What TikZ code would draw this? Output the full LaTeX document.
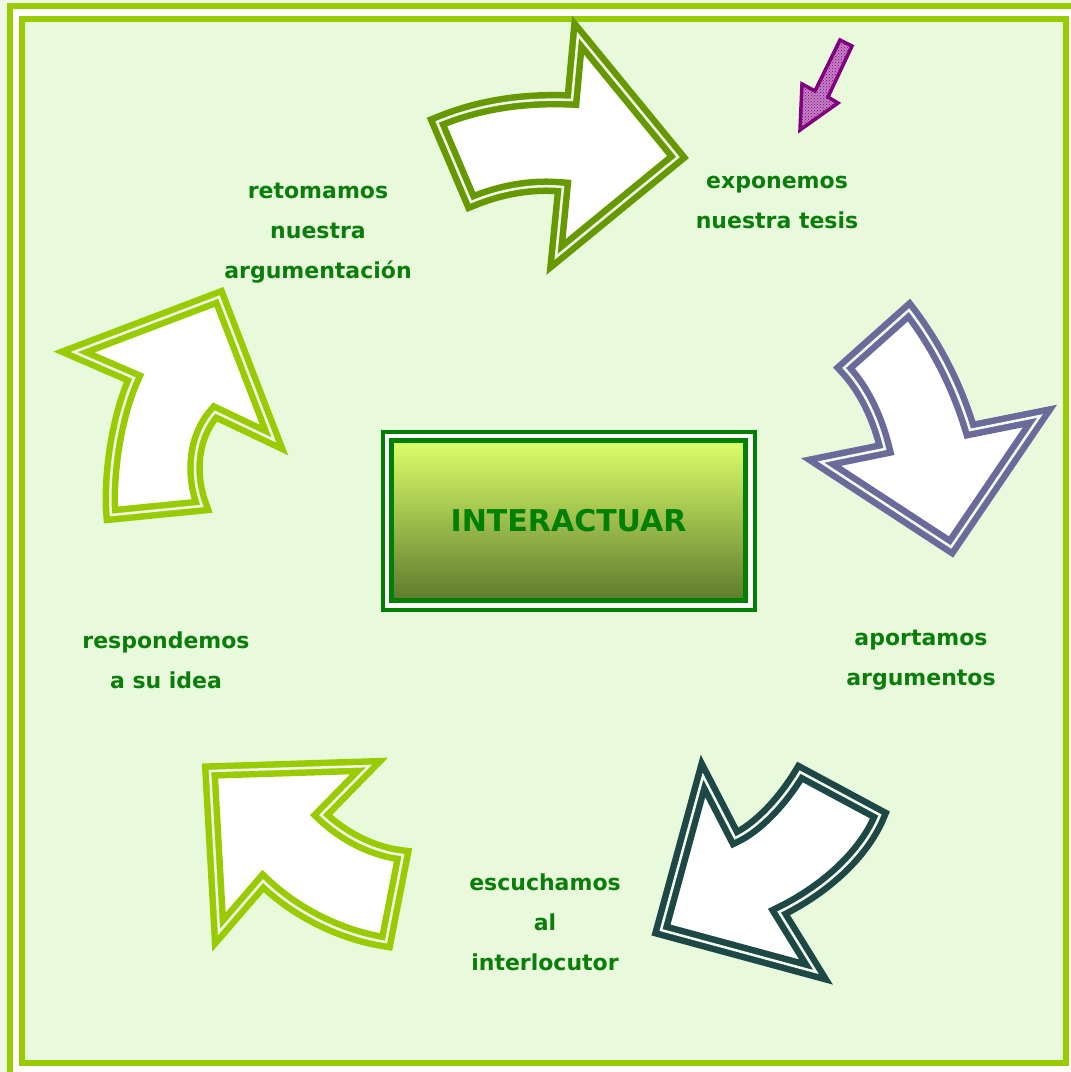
\documentclass[tikz,border=0pt]{standalone}
\usepackage{fontspec}
\setmainfont{DejaVu Sans}
\usetikzlibrary{patterns}
\definecolor{pagec}{RGB}{238,248,230}
\definecolor{bgc}{RGB}{232,249,220}
\definecolor{frameg}{RGB}{153,204,0}
\definecolor{gapc}{RGB}{242,251,236}
\definecolor{aone}{RGB}{102,153,0}
\definecolor{atwo}{RGB}{107,107,155}
\definecolor{athree}{RGB}{30,72,70}
\definecolor{afour}{RGB}{153,204,0}
\definecolor{txtg}{RGB}{10,125,10}
\definecolor{boxg}{RGB}{0,128,0}
\definecolor{shtop}{RGB}{220,255,106}
\definecolor{shmid}{RGB}{170,205,85}
\definecolor{shbot}{RGB}{94,122,46}
\definecolor{magd}{RGB}{128,0,128}
\definecolor{magl}{RGB}{196,128,196}
\tikzset{
  blk/.style={fill=white, line width=6.5pt, double=gapc, double distance=2.5pt, line join=miter, miter limit=10},
  lbl/.style={text=txtg, font=\bfseries\fontsize{22}{40}\selectfont, align=center, inner sep=0pt},
}
\begin{document}
\begin{tikzpicture}[x=1pt,y=-1pt]
\useasboundingbox (0,0) rectangle (1071,1072);
\fill[pagec] (0,0) rectangle (1071,1072);
% frames
\draw[frameg, line width=6pt, fill=white] (9.5,6.2) rectangle (1095,1095);
\draw[frameg, line width=6pt, fill=bgc] (22,19) rectangle (1066,1063);
% center box
\draw[boxg, line width=4pt, fill=white] (383,432) rectangle (755,610);
\node (center) at (568.6,520.7) [draw=boxg, line width=4.5pt, minimum width=353.8pt, minimum height=160pt, inner sep=0pt,
  top color=shtop, middle color=shmid, bottom color=shbot, text=boxg, font=\bfseries\fontsize{30}{36}\selectfont] {INTERACTUAR};
% arrow 1 (top, pointing right)
\draw[blk, draw=aone] (437,122) .. controls (480,104) and (525,98) .. (572,100) -- (578,35) -- (678,157) -- (556,257) -- (563,187)
  .. controls (530,184) and (500,190) .. (471,202) -- cycle;
% arrow 2 (right, pointing down)
\draw[blk, draw=atwo] (844,368) -- (909,310) .. controls (932,340) and (955,380) .. (970,430) -- (1040,416) -- (951,547) -- (821,462) -- (885,449)
  .. controls (878,420) and (865,390) .. (844,368) -- cycle;
% arrow 3 (bottom right, pointing down-left)
\draw[blk, draw=athree] (703,776) -- (735,838) .. controls (757,828) and (782,802) .. (800,772) -- (880,815)
  .. controls (865,852) and (828,888) .. (779,912) -- (816,972) -- (661,930) -- cycle;
% arrow 4 (bottom left, pointing up-left)
\draw[blk, draw=afour] (210,771) -- (369,766) -- (321,815) .. controls (345,838) and (375,852) .. (403,855) -- (386,942)
  .. controls (340,935) and (295,912) .. (263,881) -- (219,932) -- cycle;
% arrow 5 (left, pointing up-right)
\draw[blk, draw=afour] (74,352) -- (219,297) -- (274,440) -- (215,412) .. controls (190,440) and (192,480) .. (202,506) -- (111,515)
  .. controls (108,480) and (115,420) .. (134,378) -- cycle;
% small magenta arrow
\fill[magl] (852,46) -- (840,40) -- (815,91) -- (802,84) -- (800,130) -- (838,103) -- (828,97) -- cycle;
\fill[pattern=crosshatch dots, pattern color=magd] (852,46) -- (840,40) -- (815,91) -- (802,84) -- (800,130) -- (838,103) -- (828,97) -- cycle;
\draw[magd, line width=3.5pt, line join=miter] (852,46) -- (840,40) -- (815,91) -- (802,84) -- (800,130) -- (838,103) -- (828,97) -- cycle;
% labels
\node[lbl] (t1) at (777,202) {exponemos\\nuestra tesis};
\node[lbl] (t2) at (318,233) {retomamos\\nuestra\\argumentación};
\node[lbl] (t3) at (921,660) {aportamos\\argumentos};
\node[lbl] (t4) at (545,922) {escuchamos\\al\\interlocutor};
\node[lbl] (t5) at (166,660) {respondemos\\a su idea};
\end{tikzpicture}
\end{document}
